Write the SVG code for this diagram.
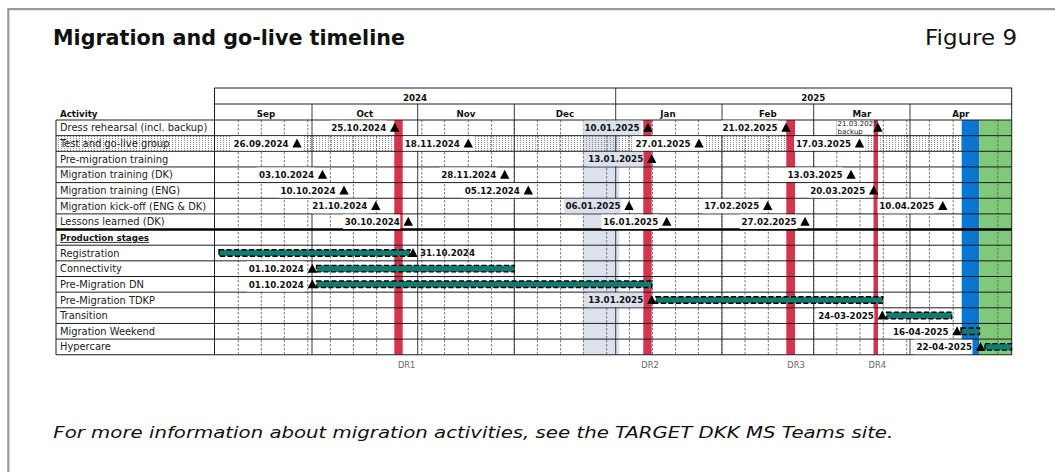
<svg xmlns="http://www.w3.org/2000/svg" width="1055" height="472" viewBox="0 0 1055 472">
<defs>
<pattern id="dots" x="0" y="0" width="3" height="2" patternUnits="userSpaceOnUse">
<rect x="1" y="0" width="1" height="1" fill="#8a8a8a"/>
</pattern>
<path id="tri" d="M-4.7 4 L4.7 4 L0 -5 Z"/>
</defs>
<style>
.lbl{font-family:"DejaVu Sans",sans-serif;font-size:9.9px;fill:#222}
.bold{font-family:"DejaVu Sans",sans-serif;font-size:8.7px;font-weight:bold;fill:#111}
.dt{font-family:"DejaVu Sans",sans-serif;font-size:8.7px;font-weight:bold;fill:#111;text-anchor:end}
.dts{font-family:"DejaVu Sans",sans-serif;font-size:8.7px;font-weight:bold;fill:#111}
.sm{font-family:"DejaVu Sans",sans-serif;font-size:7px;fill:#222}
.dr{font-family:"DejaVu Sans",sans-serif;font-size:8.3px;fill:#666;text-anchor:middle}
.wk{fill:none;stroke:#5a5a5a;stroke-width:0.8;stroke-dasharray:2.5 1.5}
.mo{fill:none;stroke:#3a3a3a;stroke-width:1}
.hl{fill:none;stroke:#1e1e1e;stroke-width:1}
.red{fill:#d5344f}
.bar{fill:#137a6f;stroke:#000;stroke-width:1.4;stroke-dasharray:5 2.5}
.bgw{fill:#fff}
.bgb{fill:#dbe2ed}
</style>

<g id="frame">
<path d="M8.3 472V9.2H1055" fill="none" stroke="#9a9a9a" stroke-width="2.2"/>
<text x="53" y="45" font-family="DejaVu Sans, sans-serif" font-size="20.8" font-weight="bold" fill="#111" textLength="352" lengthAdjust="spacingAndGlyphs">Migration and go-live timeline</text>
<text x="925" y="45" font-family="DejaVu Sans, sans-serif" font-size="21.5" fill="#111" textLength="92" lengthAdjust="spacingAndGlyphs">Figure 9</text>
<text x="53.3" y="438.3" font-family="DejaVu Sans, sans-serif" font-size="16.5" font-style="italic" fill="#111" textLength="840" lengthAdjust="spacingAndGlyphs">For more information about migration activities, see the TARGET DKK MS Teams site.</text>
</g>

<g id="background">
<rect x="583.3" y="120" width="36" height="234.75" fill="#dbe2ed"/>
<rect x="56" y="135.65" width="956" height="15.65" fill="url(#dots)"/>
<rect x="961.7" y="120" width="17.6" height="234.75" fill="#0877d4"/>
<rect x="979.3" y="120" width="32.4" height="234.75" fill="#80c87a"/>
</g>

<g id="grid">
<path class="wk" d="M238.3 120V354.75M261.3 120V354.75M284.3 120V354.75M307.8 120V354.75M330.4 120V354.75M353.4 120V354.75M376.6 120V354.75M399.4 120V354.75M421.8 120V354.75M444.6 120V354.75M468.3 120V354.75M491.6 120V354.75M514.3 120V354.75M537.4 120V354.75M560.6 120V354.75M583.4 120V354.75M606.7 120V354.75M629.4 120V354.75M652.5 120V354.75M675.6 120V354.75M698.4 120V354.75M721.6 120V354.75M745 120V354.75M768.3 120V354.75M791 120V354.75M813.7 120V354.75M836.8 120V354.75M860 120V354.75M883.3 120V354.75M906.7 120V354.75M929.4 120V354.75M953.2 120V354.75M976 120V354.75M997.8 120V354.75"/>
<path class="mo" d="M312 104V354.75M417.7 104V354.75M514.3 104V354.75M615.7 88V354.75M722 104V354.75M813.7 104V354.75M910 104V354.75"/>
</g>

<g id="dress-rehearsal-markers">
<rect class="red" x="394.3" y="120" width="8.4" height="234.75"/>
<rect class="red" x="643.3" y="120" width="8.4" height="234.75"/>
<rect class="red" x="786.3" y="120" width="8.7" height="234.75"/>
<rect class="red" x="873.5" y="120" width="4.5" height="234.75"/>
</g>

<g id="table-lines">
<path class="hl" d="M214.5 88H1012M214.5 104H1012M56 120H1012M56 135.65H1012M56 151.3H1012M56 166.95H1012M56 182.6H1012M56 198.25H1012M56 213.9H1012M56 245.2H1012M56 260.85H1012M56 276.5H1012M56 292.15H1012M56 307.8H1012M56 323.45H1012M56 339.1H1012M56 354.75H1012"/>
<path d="M56 229.55H1012" fill="none" stroke="#000" stroke-width="2.6"/>
<path class="hl" d="M56 120V354.75M214.5 88V354.75M1011.7 88V354.75"/>
</g>

<g id="header">
<text class="bold" x="415" y="100.5" text-anchor="middle">2024</text>
<text class="bold" x="813.3" y="100.5" text-anchor="middle">2025</text>
<text class="bold" x="60" y="116.5">Activity</text>
<text class="bold" x="266" y="116.5" text-anchor="middle">Sep</text>
<text class="bold" x="364.8" y="116.5" text-anchor="middle">Oct</text>
<text class="bold" x="466" y="116.5" text-anchor="middle">Nov</text>
<text class="bold" x="565" y="116.5" text-anchor="middle">Dec</text>
<text class="bold" x="668" y="116.5" text-anchor="middle">Jan</text>
<text class="bold" x="767.8" y="116.5" text-anchor="middle">Feb</text>
<text class="bold" x="861.8" y="116.5" text-anchor="middle">Mar</text>
<text class="bold" x="960.8" y="116.5" text-anchor="middle">Apr</text>
</g>

<g id="row-dress-rehearsal">
<text class="lbl" x="60" y="131.3">Dress rehearsal (incl. backup)</text>
<rect class="bgw" x="329.5" y="120.6" width="57.5" height="14.5"/>
<text class="dt" x="386.2" y="131">25.10.2024</text>
<use href="#tri" x="394.7" y="127.8"/>
<rect class="bgb" x="583.3" y="120.6" width="57.5" height="14.5"/>
<text class="dt" x="639.5" y="131">10.01.2025</text>
<use href="#tri" x="648" y="127.8"/>
<rect class="bgw" x="721" y="120.6" width="57.5" height="14.5"/>
<text class="dt" x="777.5" y="131">21.02.2025</text>
<use href="#tri" x="786" y="127.8"/>
<rect x="836.6" y="120.8" width="37" height="14" fill="#fff" stroke="#b0b0b0" stroke-width="0.5"/>
<text class="sm" x="837.5" y="126.2">21.03.2025</text>
<text class="sm" x="837.5" y="133.6">backup</text>
<use href="#tri" x="878" y="127.8"/>
</g>

<g id="row-test-go-live">
<text class="lbl" x="60" y="147">Test and go-live group</text>
<rect class="bgw" x="232" y="136.2" width="71" height="14.5"/>
<text class="dt" x="288.5" y="146.7">26.09.2024</text>
<use href="#tri" x="297" y="143.5"/>
<rect class="bgw" x="403" y="136.2" width="71.3" height="14.5"/>
<text class="dt" x="459.8" y="146.7">18.11.2024</text>
<use href="#tri" x="468.3" y="143.5"/>
<rect class="bgw" x="632.5" y="136.2" width="72.5" height="14.5"/>
<text class="dt" x="690.5" y="146.7">27.01.2025</text>
<use href="#tri" x="699" y="143.5"/>
<rect class="bgw" x="794" y="136.2" width="71.5" height="14.5"/>
<text class="dt" x="851" y="146.7">17.03.2025</text>
<use href="#tri" x="859.5" y="143.5"/>
</g>

<g id="row-pre-migration-training">
<text class="lbl" x="60" y="162.6">Pre-migration training</text>
<rect class="bgb" x="587" y="151.9" width="56.3" height="14.5"/>
<text class="dt" x="643.2" y="162.3">13.01.2025</text>
<use href="#tri" x="651.7" y="159.1"/>
</g>

<g id="row-migration-training-dk">
<text class="lbl" x="60" y="178.3">Migration training (DK)</text>
<rect class="bgw" x="256.5" y="167.5" width="58" height="14.5"/>
<text class="dt" x="314" y="178">03.10.2024</text>
<use href="#tri" x="322.5" y="174.8"/>
<rect class="bgw" x="439.5" y="167.5" width="57.3" height="14.5"/>
<text class="dt" x="496.2" y="178">28.11.2024</text>
<use href="#tri" x="504.7" y="174.8"/>
<rect class="bgw" x="786" y="167.5" width="57" height="14.5"/>
<text class="dt" x="842.5" y="178">13.03.2025</text>
<use href="#tri" x="851" y="174.8"/>
</g>

<g id="row-migration-training-eng">
<text class="lbl" x="60" y="193.9">Migration training (ENG)</text>
<rect class="bgw" x="279" y="183.2" width="57" height="14.5"/>
<text class="dt" x="335.5" y="193.6">10.10.2024</text>
<use href="#tri" x="344" y="190.4"/>
<rect class="bgw" x="463" y="183.2" width="57.3" height="14.5"/>
<text class="dt" x="519.8" y="193.6">05.12.2024</text>
<use href="#tri" x="528.3" y="190.4"/>
<rect class="bgw" x="808.5" y="183.2" width="57.3" height="14.5"/>
<text class="dt" x="865.2" y="193.6">20.03.2025</text>
<use href="#tri" x="873.7" y="190.4"/>
</g>

<g id="row-migration-kick-off">
<text class="lbl" x="60" y="209.6">Migration kick-off (ENG &amp; DK)</text>
<rect class="bgw" x="311" y="198.8" width="57" height="14.5"/>
<text class="dt" x="367.3" y="209.3">21.10.2024</text>
<use href="#tri" x="375.8" y="206.1"/>
<rect class="bgb" x="564" y="198.8" width="57" height="14.5"/>
<text class="dt" x="620.5" y="209.3">06.01.2025</text>
<use href="#tri" x="629" y="206.1"/>
<rect class="bgw" x="702.5" y="198.8" width="57.3" height="14.5"/>
<text class="dt" x="759.2" y="209.3">17.02.2025</text>
<use href="#tri" x="767.7" y="206.1"/>
<rect class="bgw" x="877.5" y="198.8" width="57.3" height="14.5"/>
<text class="dt" x="934.3" y="209.3">10.04.2025</text>
<use href="#tri" x="942.8" y="206.1"/>
</g>

<g id="row-lessons-learned">
<text class="lbl" x="60" y="225.2">Lessons learned (DK)</text>
<rect class="bgw" x="343" y="214.5" width="57.3" height="14.5"/>
<text class="dt" x="399.8" y="224.9">30.10.2024</text>
<use href="#tri" x="408.3" y="221.7"/>
<rect class="bgw" x="601.5" y="214.5" width="57.3" height="14.5"/>
<text class="dt" x="658.2" y="224.9">16.01.2025</text>
<use href="#tri" x="666.7" y="221.7"/>
<rect class="bgw" x="739.8" y="214.5" width="57.3" height="14.5"/>
<text class="dt" x="796.5" y="224.9">27.02.2025</text>
<use href="#tri" x="805" y="221.7"/>
</g>

<g id="row-production-stages">
<text class="bold" x="60" y="240.9" text-decoration="underline">Production stages</text>
</g>

<g id="row-registration">
<text class="lbl" x="60" y="256.5">Registration</text>
<rect class="bar" x="219" y="249.7" width="191" height="6.5"/>
<use href="#tri" x="413" y="253"/>
<text class="dts" x="420" y="256.2">31.10.2024</text>
</g>

<g id="row-connectivity">
<text class="lbl" x="60" y="272.2">Connectivity</text>
<rect class="bgw" x="246.5" y="261.4" width="57.8" height="14.5"/>
<text class="dt" x="303.8" y="271.9">01.10.2024</text>
<rect class="bar" x="316.5" y="265.4" width="197.8" height="6.5"/>
<use href="#tri" x="312.3" y="268.7"/>
</g>

<g id="row-pre-migration-dn">
<text class="lbl" x="60" y="287.8">Pre-Migration DN</text>
<rect class="bgw" x="246.5" y="277.1" width="57.8" height="14.5"/>
<text class="dt" x="303.8" y="287.5">01.10.2024</text>
<rect class="bar" x="316.5" y="281" width="335.2" height="6.5"/>
<use href="#tri" x="312.3" y="284.3"/>
</g>

<g id="row-pre-migration-tdkp">
<text class="lbl" x="60" y="303.5">Pre-Migration TDKP</text>
<rect class="bgb" x="587" y="292.7" width="56.3" height="14.5"/>
<text class="dt" x="643.2" y="303.2">13.01.2025</text>
<rect class="bar" x="656" y="296.7" width="226.7" height="6.5"/>
<use href="#tri" x="651.7" y="300"/>
</g>

<g id="row-transition">
<text class="lbl" x="60" y="319.1">Transition</text>
<rect class="bgw" x="817" y="308.4" width="57.3" height="14.5"/>
<text class="dt" x="873.8" y="318.8">24-03-2025</text>
<rect class="bar" x="886.5" y="312.3" width="65.2" height="6.5"/>
<use href="#tri" x="882.3" y="315.6"/>
</g>

<g id="row-migration-weekend">
<text class="lbl" x="60" y="334.8">Migration Weekend</text>
<rect class="bgw" x="891.5" y="324" width="57.5" height="14.5"/>
<text class="dt" x="948.5" y="334.5">16-04-2025</text>
<rect class="bar" x="961" y="328" width="18.5" height="6.5"/>
<use href="#tri" x="957" y="331.3"/>
</g>

<g id="row-hypercare">
<text class="lbl" x="60" y="350.4">Hypercare</text>
<rect class="bgw" x="914.5" y="339.7" width="58" height="14.5"/>
<text class="dt" x="972" y="350.1">22-04-2025</text>
<rect class="bar" x="985" y="343.6" width="26.5" height="6.5"/>
<use href="#tri" x="980.5" y="346.9"/>
</g>

<g id="dr-labels">
<text class="dr" x="406.7" y="367.5">DR1</text>
<text class="dr" x="650" y="367.5">DR2</text>
<text class="dr" x="796" y="367.5">DR3</text>
<text class="dr" x="877.3" y="367.5">DR4</text>
</g>

<g id="connectors"></g>
</svg>
